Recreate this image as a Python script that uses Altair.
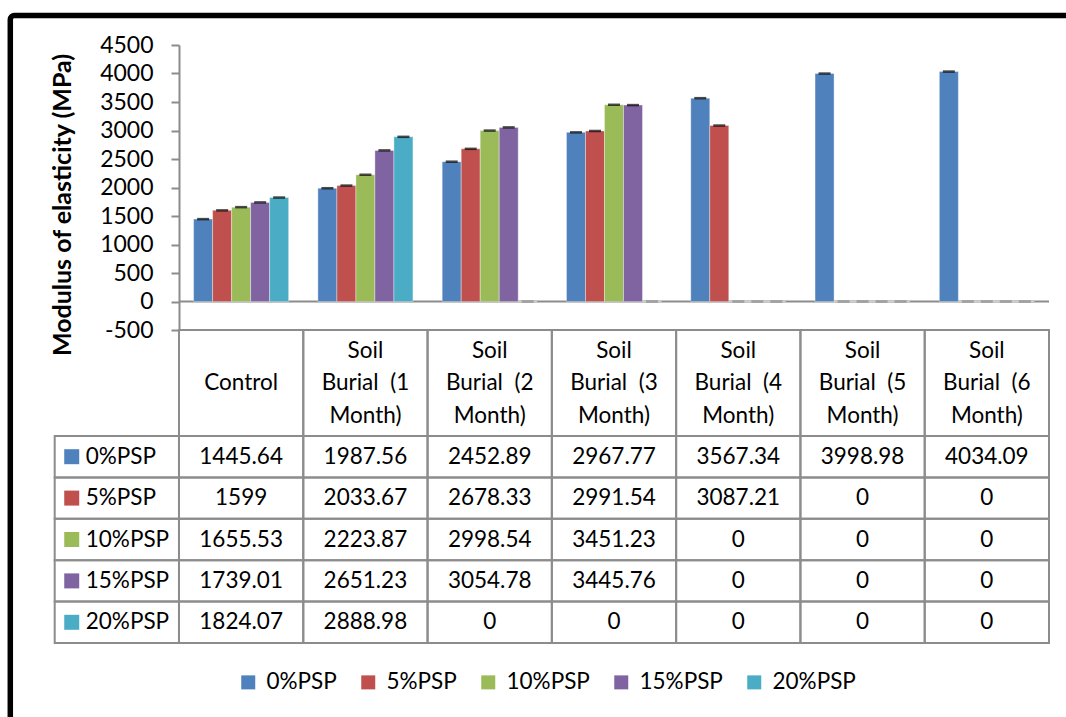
import altair as alt

# Categories (table columns) and their header text broken into lines
categories = [
    "Control",
    "Soil Burial (1 Month)",
    "Soil Burial (2 Month)",
    "Soil Burial (3 Month)",
    "Soil Burial (4 Month)",
    "Soil Burial (5 Month)",
    "Soil Burial (6 Month)",
]
header_text = [
    "Control",
    "Soil|Burial\u00a0\u00a0(1|Month)",
    "Soil|Burial\u00a0\u00a0(2|Month)",
    "Soil|Burial\u00a0\u00a0(3|Month)",
    "Soil|Burial\u00a0\u00a0(4|Month)",
    "Soil|Burial\u00a0\u00a0(5|Month)",
    "Soil|Burial\u00a0\u00a0(6|Month)",
]

series = ["0%PSP", "5%PSP", "10%PSP", "15%PSP", "20%PSP"]
colors = ["#4F81BD", "#C0504D", "#9BBB59", "#8064A2", "#4BACC6"]

# Modulus of elasticity (MPa) per series, one value per category
psp0 = [1445.64, 1987.56, 2452.89, 2967.77, 3567.34, 3998.98, 4034.09]
psp5 = [1599, 2033.67, 2678.33, 2991.54, 3087.21, 0, 0]
psp10 = [1655.53, 2223.87, 2998.54, 3451.23, 0, 0, 0]
psp15 = [1739.01, 2651.23, 3054.78, 3445.76, 0, 0, 0]
psp20 = [1824.07, 2888.98, 0, 0, 0, 0, 0]

y_ticks = [-500, 0, 500, 1000, 1500, 2000, 2500, 3000, 3500, 4000, 4500]
y_title = "Modulus of elasticity (MPa)"

LABEL_COL = " "
FONT = "Lato"
GRID = "#8c8c8c"
LINE_H = 32.5
TEXT_SIZE = 22.5

# ---- data tables built from the arrays above ----
all_values = [psp0, psp5, psp10, psp15, psp20]
records = [
    {"col": c, "series": s, "value": v}
    for s, vals in zip(series, all_values)
    for c, v in zip(categories, vals)
]
header_records = [{"col": c, "label": h} for c, h in zip(categories, header_text)]
row_label_records = [{"col": LABEL_COL, "series": s} for s in series]
cell_records = [{"col": c, "series": s} for s in series for c in [LABEL_COL] + categories]

values_data = alt.Data(values=records)
header_data = alt.Data(values=header_records)

# ---- shared scales ----
x_scale = alt.Scale(domain=[LABEL_COL] + categories, range=[-124.3, 870],
                    paddingInner=0, paddingOuter=0)
y_scale = alt.Scale(domain=[-500, 4500], nice=False, zero=False)
row_scale = alt.Scale(domain=series, range=[391, 598], paddingInner=0, paddingOuter=0)
color_scale = alt.Scale(domain=series, range=colors)
offset_scale = alt.Scale(domain=series, paddingOuter=0.77, paddingInner=0)

y_axis = alt.Axis(
    values=y_ticks,
    labelExpr="'' + datum.value",
    grid=False,
    tickSize=8,
    tickWidth=2,
    tickColor=GRID,
    domainColor=GRID,
    domainWidth=2,
    labelPadding=18,
    labelFontSize=23,
    labelFont=FONT,
    labelColor="black",
    labelOverlap=False,
    title=y_title,
    titleFont=FONT,
    titleFontSize=25,
    titleFontWeight="bold",
    titleColor="black",
    titleAngle=270,
    titleAlign="center",
    titleBaseline="middle",
    titleX=-117,
    titleY=159.5,
)

x_enc = alt.X("col:N", scale=x_scale, axis=None)
y_val = alt.Y("value:Q", scale=y_scale, axis=y_axis)

# ---- bar chart ----
zero_line = alt.Chart(alt.Data(values=[{"value": 0}])).mark_rule(
    color=GRID, strokeWidth=2
).encode(y=y_val)

bars = alt.Chart(values_data).mark_bar(
    stroke="white", strokeWidth=0.6, strokeOpacity=0.6
).encode(
    x=x_enc,
    xOffset=alt.XOffset("series:N", scale=offset_scale),
    y=y_val,
    y2=alt.datum(0),
    color=alt.Color(
        "series:N",
        scale=color_scale,
        legend=alt.Legend(
            title=None,
            orient="none",
            legendX=58,
            legendY=626,
            direction="horizontal",
            symbolType="square",
            symbolSize=196,
            symbolStrokeWidth=0,
            symbolOpacity=1,
            labelFont=FONT,
            labelFontSize=TEXT_SIZE,
            labelColor="black",
            labelOffset=7,
            columnPadding=20,
            padding=0,
        ),
    ),
)

caps = alt.Chart(values_data).mark_tick(size=12, thickness=2.5).encode(
    x=x_enc,
    xOffset=alt.XOffset("series:N", scale=offset_scale),
    y=y_val,
    color=alt.condition("datum.value == 0", alt.value(GRID), alt.value("black")),
)

plot = alt.layer(zero_line, bars, caps)

# ---- data table under the plot ----
header_cells = alt.Chart(header_data).mark_rect(
    fillOpacity=0, stroke=GRID, strokeWidth=2
).encode(x=x_enc, y=alt.value(285), y2=alt.value(391))

header_base = alt.Chart(header_data).transform_calculate(
    lines="split(datum.label, '|')"
)
header_one_line = header_base.transform_filter("length(datum.lines) == 1").mark_text(
    font=FONT, fontSize=TEXT_SIZE, color="black", align="center", baseline="middle",
    lineHeight=LINE_H,
).encode(x=x_enc, y=alt.value(338), text="lines:N")
header_three_lines = header_base.transform_filter("length(datum.lines) == 3").mark_text(
    font=FONT, fontSize=TEXT_SIZE, color="black", align="center", baseline="middle",
    lineHeight=LINE_H,
).encode(x=x_enc, y=alt.value(338 - LINE_H), text="lines:N")

body_cells = alt.Chart(alt.Data(values=cell_records)).mark_rect(
    fillOpacity=0, stroke=GRID, strokeWidth=2
).encode(x=x_enc, y=alt.Y("series:N", scale=row_scale, axis=None))

value_labels = alt.Chart(values_data).mark_text(
    font=FONT, fontSize=TEXT_SIZE, color="black", align="center", baseline="middle"
).encode(
    x=x_enc,
    y=alt.Y("series:N", scale=row_scale, axis=None),
    text=alt.Text("value:Q", format="~f"),
)

row_keys = alt.Chart(alt.Data(values=row_label_records)).mark_square(
    size=225, opacity=1
).encode(
    x=alt.X("col:N", scale=x_scale, axis=None, bandPosition=0.137),
    y=alt.Y("series:N", scale=row_scale, axis=None),
    fill=alt.Fill("series:N", scale=color_scale, legend=None),
)

row_labels = alt.Chart(alt.Data(values=row_label_records)).mark_text(
    font=FONT, fontSize=TEXT_SIZE, color="black", align="left", baseline="middle"
).encode(
    x=alt.X("col:N", scale=x_scale, axis=None, bandPosition=0.25),
    y=alt.Y("series:N", scale=row_scale, axis=None),
    text="series:N",
)

table = alt.layer(header_cells, header_one_line, header_three_lines,
                  body_cells, value_labels, row_keys, row_labels)

# ---- outer frame (left and top edges of the chart border) ----
frame = alt.Chart(alt.Data(values=[{}])).mark_rect(
    fillOpacity=0, stroke="black", strokeWidth=5.5, cornerRadius=4
).encode(
    x=alt.value(-168.7), x2=alt.value(1000), y=alt.value(-29.5), y2=alt.value(800)
)

chart = (
    alt.layer(plot, table, frame)
    .resolve_scale(y="independent")
    .properties(
        width=870,
        height=285,
        autosize=alt.AutoSizeParams(type="none"),
        padding={"left": 179, "top": 45, "right": 17, "bottom": 387},
        background="white",
    )
    .configure(font=FONT)
    .configure_view(stroke=None)
)

chart.save("out.html", embed_options={"renderer": "svg", "actions": False})
